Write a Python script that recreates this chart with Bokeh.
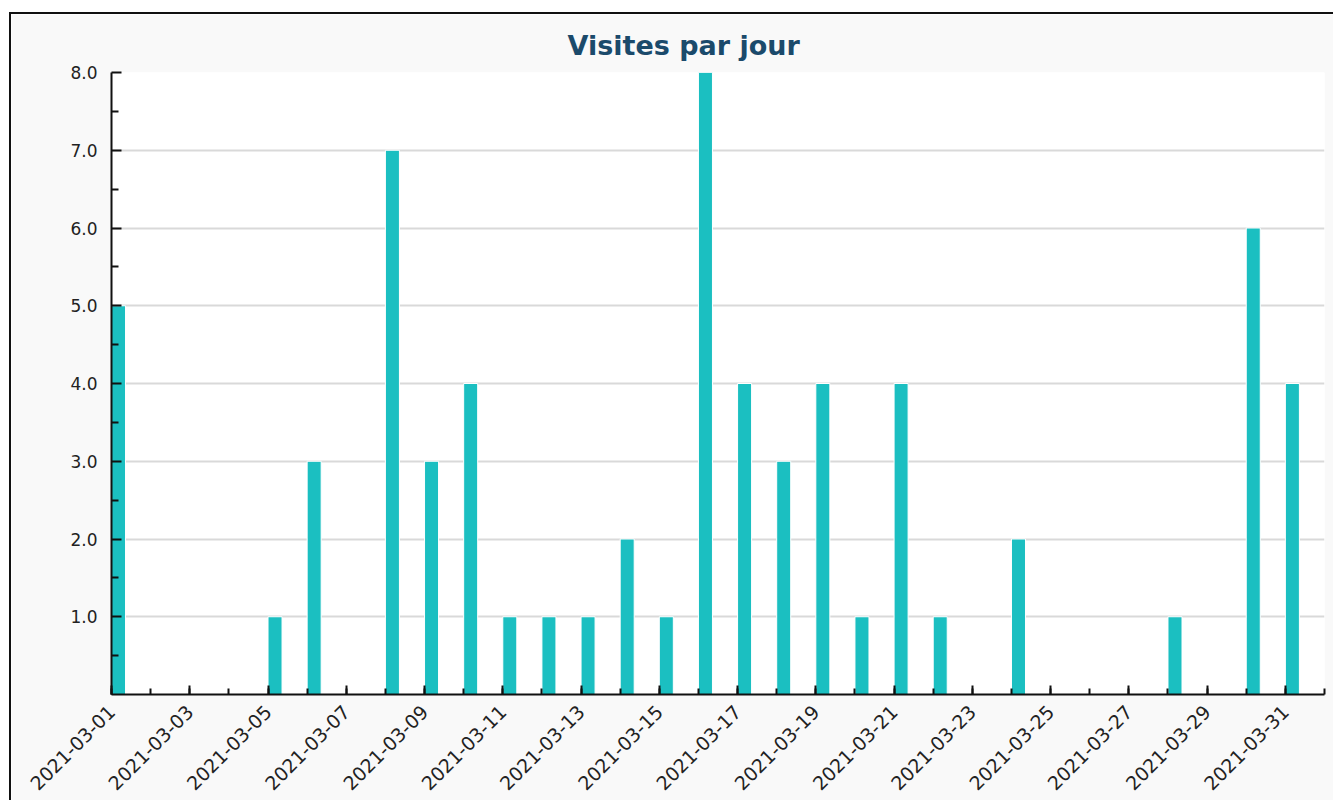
from datetime import datetime, timedelta
from bokeh.plotting import figure
from bokeh.models import Range1d, FixedTicker, DatetimeTickFormatter, NumeralTickFormatter
from bokeh.embed import file_html
from bokeh.resources import INLINE

# ---- data ----
days = ["2021-03-%02d" % d for d in range(1, 32)]
visits = [5, 0, 0, 0, 1, 3, 0, 7, 3, 4,
          1, 1, 1, 2, 1, 8, 4, 3, 4, 1,
          4, 1, 0, 2, 0, 0, 0, 1, 0, 6, 4]
y_ticks = [1, 2, 3, 4, 5, 6, 7, 8]
title_text = "Visites par jour"

dates = [datetime.strptime(d, "%Y-%m-%d") for d in days]
bar_w = timedelta(hours=8.6)
lefts = dates
rights = [d + bar_w for d in dates]

x_start = dates[0]
x_end = dates[-1] + timedelta(days=1)

p = figure(width=1324, height=788, x_axis_type="datetime",
           x_range=Range1d(x_start, x_end), y_range=Range1d(0, 8),
           output_backend="svg", toolbar_location=None,
           min_border_left=100, min_border_right=11,
           min_border_top=58, min_border_bottom=108,
           border_fill_color="#f9f9f9", background_fill_color="white",
           outline_line_color=None)
p.styles = {"border-top": "2px solid #111111", "border-left": "2px solid #111111",
            "margin-left": "9px", "margin-top": "12px"}

p.quad(left=lefts, right=rights, bottom=0, top=visits,
       fill_color="#1bbfc1", line_color="white", line_width=1)

# title
p.title.text = title_text
p.title.align = "left"
p.title.offset = 456
p.title.vertical_align = "top"
p.title.text_font = "DejaVu Sans"
p.title.text_font_size = "27px"
p.title.text_font_style = "bold"
p.title.text_color = "#1b4a6b"
p.title.standoff = 20

# x axis
ms = lambda d: d.timestamp() * 1000
major_x = [ms(d) for d in dates[::2]]
minor_x = [ms(d) for d in dates] + [ms(x_end)]
xa = p.xaxis[0]
xa.ticker = FixedTicker(ticks=major_x, minor_ticks=minor_x)
fmt = "%Y-%m-%d"
xa.formatter = DatetimeTickFormatter(days=fmt, months=fmt, years=fmt, hours=fmt,
                                     hourmin=fmt, minutes=fmt, minsec=fmt,
                                     seconds=fmt, milliseconds=fmt, microseconds=fmt)
xa.major_label_orientation = 0.7854
xa.major_label_text_font = "DejaVu Sans"
xa.major_label_text_font_size = "19px"
xa.major_label_text_color = "#222222"
xa.major_label_standoff = 14
xa.major_tick_in = 9
xa.major_tick_out = 0
xa.minor_tick_in = 6
xa.minor_tick_out = 0
xa.axis_line_width = 2
xa.axis_line_color = "#111111"
xa.major_tick_line_width = 2
xa.minor_tick_line_width = 2
xa.major_tick_line_color = "#111111"
xa.minor_tick_line_color = "#111111"

# y axis
ya = p.yaxis[0]
ya.ticker = FixedTicker(ticks=y_ticks, minor_ticks=[v - 0.5 for v in y_ticks])
ya.formatter = NumeralTickFormatter(format="0.0")
ya.major_label_text_font = "DejaVu Sans"
ya.major_label_text_font_size = "17px"
ya.major_label_text_color = "#222222"
ya.major_label_standoff = 14
ya.major_tick_in = 10
ya.major_tick_out = 0
ya.minor_tick_in = 7
ya.minor_tick_out = 0
ya.axis_line_width = 2
ya.axis_line_color = "#111111"
ya.major_tick_line_width = 2
ya.minor_tick_line_width = 2
ya.major_tick_line_color = "#111111"
ya.minor_tick_line_color = "#111111"

p.xgrid.grid_line_color = None
p.ygrid.grid_line_color = "#d9d9d9"
p.ygrid.grid_line_width = 2
p.ygrid.ticker = FixedTicker(ticks=y_ticks)

open("out.html", "w").write(file_html(p, INLINE))
